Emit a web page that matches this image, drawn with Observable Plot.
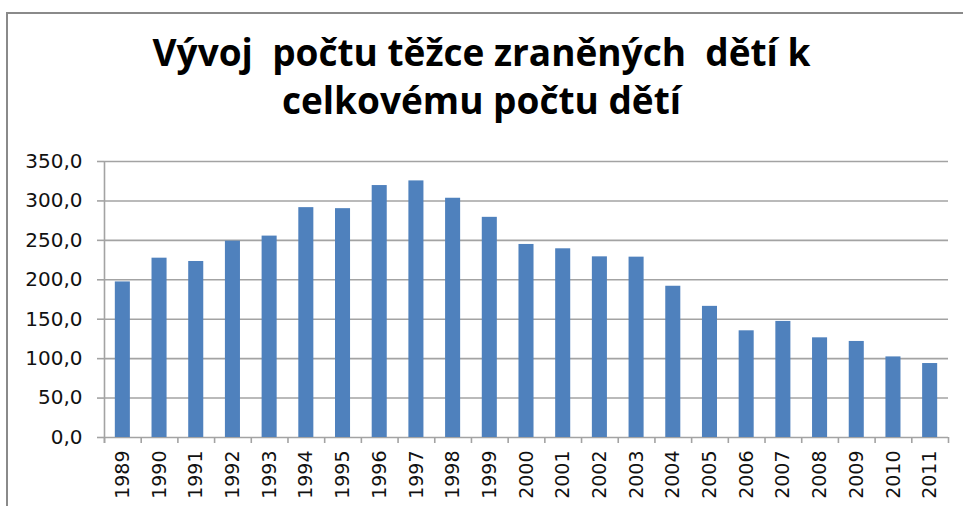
<!DOCTYPE html>
<html>
<head>
<meta charset="utf-8">
<script src="https://cdn.jsdelivr.net/npm/d3@7"></script>
<script src="https://cdn.jsdelivr.net/npm/@observablehq/plot@0.6"></script>
<style>
  html, body { margin: 0; padding: 0; background: #fff; }
  #wrap { position: relative; width: 963px; height: 506px; overflow: hidden; background: #fff; }
  #frame { position: absolute; left: 6px; top: 12px; width: 1000px; height: 600px;
           border-left: 2px solid #8a8a8a; border-top: 2px solid #8a8a8a; }
  #title { position: absolute; left: 0; top: 0; width: 963px; height: 140px; }
  #title div { position: absolute; left: 0; width: 963px; text-align: center; white-space: pre;
               font-family: "Open Sans", sans-serif; font-weight: 700; font-size: 37px; color: #000; line-height: 50px; }
  #chart { position: absolute; left: 0; top: 140px; }
</style>
</head>
<body>
<div id="wrap">
  <div id="frame"></div>
  <div id="title"><div id="t1" style="top:27px"></div><div id="t2" style="top:75px"></div></div>
  <div id="chart"></div>
</div>
<script>
const titleLines = ["Vývoj  počtu těžce zraněných  dětí k", "celkovému počtu dětí"];
const years = [1989, 1990, 1991, 1992, 1993, 1994, 1995, 1996, 1997, 1998, 1999, 2000,
               2001, 2002, 2003, 2004, 2005, 2006, 2007, 2008, 2009, 2010, 2011];
const values = [197.3, 227.4, 223.2, 249.0, 255.4, 291.5, 290.2, 319.5, 325.4, 303.4, 279.2, 244.8,
                239.3, 229.1, 228.7, 191.8, 166.3, 135.3, 147.2, 126.4, 121.8, 102.2, 93.8];
const yTicks = [0, 50, 100, 150, 200, 250, 300, 350];

document.getElementById("t1").textContent = titleLines[0];
document.getElementById("t2").textContent = titleLines[1];

const data = years.map((year, i) => ({year, value: values[i]}));
const first = years[0] - 0.5, last = years[years.length - 1] + 0.5;
const boundaries = d3.range(first, last + 0.01, 1);
const fmt = d => d.toFixed(1).replace(".", ",");
const gray = "#a3a3a3";

const chart = Plot.plot({
  width: 963,
  height: 366,
  marginTop: 21,
  marginBottom: 69,
  marginLeft: 104,
  marginRight: 15,
  style: {fontFamily: "DejaVu Sans, sans-serif", fontSize: "20px", color: "#111", background: "transparent"},
  x: {domain: [first, last]},
  y: {domain: [0, 350]},
  marks: [
    Plot.gridY(yTicks, {stroke: gray, strokeOpacity: 1, strokeWidth: 1.6}),
    Plot.rectY(data, {x1: d => d.year - 0.205, x2: d => d.year + 0.205, y: "value", fill: "#4f81bd"}),
    Plot.ruleX([first], {stroke: gray, strokeWidth: 1.6, insetBottom: -6}),
    Plot.axisY(yTicks, {tickSize: 7, tickPadding: 15, tickFormat: fmt, stroke: gray, strokeWidth: 1.6, label: null, fill: "#111"}),
    Plot.axisX(boundaries, {tickSize: 6, tickFormat: () => "", stroke: gray, strokeWidth: 1.6, label: null}),
    Plot.axisX(years, {tickSize: 0, tickPadding: 13, tickRotate: -90, tickFormat: d => String(d), label: null, fontSize: 19, fill: "#111"})
  ]
});
document.getElementById("chart").appendChild(chart);
</script>
</body>
</html>
